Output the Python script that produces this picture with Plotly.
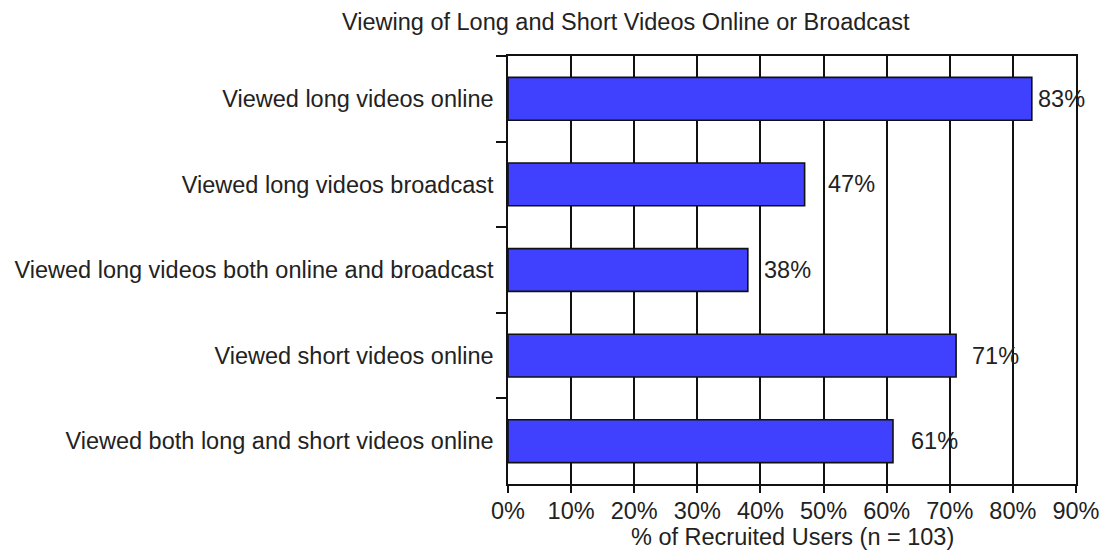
import plotly.graph_objects as go

categories = [
    "Viewed long videos online",
    "Viewed long videos broadcast",
    "Viewed long videos both online and broadcast",
    "Viewed short videos online",
    "Viewed both long and short videos online",
]
values = [83, 47, 38, 71, 61]
value_labels = ["83%", "47%", "38%", "71%", "61%"]
x_tickvals = [0, 10, 20, 30, 40, 50, 60, 70, 80, 90]
x_ticktext = ["0%", "10%", "20%", "30%", "40%", "50%", "60%", "70%", "80%", "90%"]

# style: per-label horizontal offsets in pixels
label_xshift = [4, 21, 14, 14, 16]

FONT = "Liberation Sans, Arial, Helvetica, sans-serif"
TXT = "#222222"
FS = 23.5

fig = go.Figure()
fig.add_trace(go.Bar(
    x=values, y=categories, orientation="h",
    marker=dict(color="#4040ff", line=dict(color="#111111", width=1.6)),
    width=0.5, hoverinfo="skip",
))

for cat, v, lab, dx in zip(categories, values, value_labels, label_xshift):
    fig.add_annotation(x=v, y=cat, xref="x", yref="y", text=lab, showarrow=False,
                       xanchor="left", yanchor="middle", xshift=dx,
                       font=dict(family=FONT, size=FS, color=TXT))

fig.add_annotation(text="Viewing of Long and Short Videos Online or Broadcast",
                   xref="paper", yref="paper", x=0.2077, y=1.079,
                   xanchor="center", yanchor="middle", showarrow=False,
                   font=dict(family=FONT, size=FS, color=TXT))

fig.add_annotation(text="% of Recruited Users (n = 103)",
                   xref="paper", yref="paper", x=0.5, y=-0.124,
                   xanchor="center", yanchor="middle", showarrow=False,
                   font=dict(family=FONT, size=FS, color=TXT))

fig.update_layout(
    width=1105, height=550,
    margin=dict(l=508, r=29, t=56, b=66),
    paper_bgcolor="white", plot_bgcolor="white",
    showlegend=False,
    font=dict(family=FONT, size=FS, color=TXT),
)
fig.update_xaxes(
    range=[0, 90], tickvals=x_tickvals, ticktext=x_ticktext,
    showgrid=True, gridcolor="#111111", gridwidth=1.5,
    showline=True, linecolor="#111111", linewidth=1.5, mirror=True,
    ticks="outside", ticklen=7, tickcolor="#111111", tickwidth=1.5,
    tickfont=dict(family=FONT, size=FS, color=TXT),
    ticklabelstandoff=-2,
    zeroline=False, fixedrange=True, automargin=False,
)
fig.update_yaxes(
    type="category", categoryorder="array", categoryarray=categories,
    autorange="reversed", tickson="boundaries",
    showgrid=False, showline=True, linecolor="#111111", linewidth=1.5, mirror=True,
    ticks="outside", ticklen=10, tickcolor="#111111", tickwidth=1.5,
    tickfont=dict(family=FONT, size=FS, color=TXT),
    ticklabelstandoff=8,
    fixedrange=True, automargin=False,
)

fig.write_html("out.html", config={"displayModeBar": False},
               post_script="document.body.style.margin='0';document.body.style.overflow='hidden';")
